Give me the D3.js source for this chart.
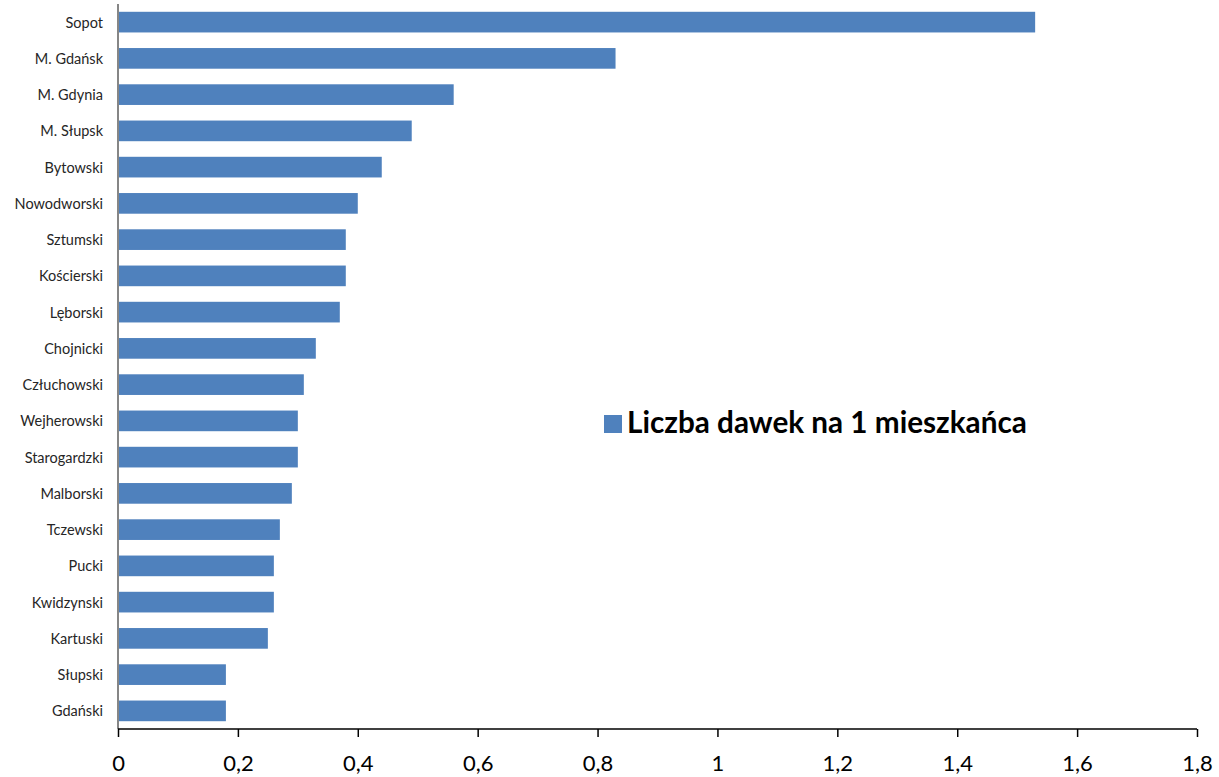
<!DOCTYPE html>
<html>
<head>
<meta charset="utf-8">
<script src="https://cdn.jsdelivr.net/npm/d3@7"></script>
<style>
  html, body { margin: 0; padding: 0; background: #fff; }
  svg { display: block; }
</style>
</head>
<body>
<svg id="chart" width="1219" height="777"></svg>
<script>
const categories = ["Sopot","M. Gdańsk","M. Gdynia","M. Słupsk","Bytowski","Nowodworski","Sztumski","Kościerski","Lęborski","Chojnicki","Człuchowski","Wejherowski","Starogardzki","Malborski","Tczewski","Pucki","Kwidzynski","Kartuski","Słupski","Gdański"];
const values = [1.53,0.83,0.56,0.49,0.44,0.40,0.38,0.38,0.37,0.33,0.31,0.30,0.30,0.29,0.27,0.26,0.26,0.25,0.18,0.18];
const xTicks = [0,0.2,0.4,0.6,0.8,1,1.2,1.4,1.6,1.8];
const seriesName = "Liczba dawek na 1 mieszkańca";

const svg = d3.select("#chart");
const pLeft = 118, pRight = 1197, pTop = 4, pBottom = 729;

const x = d3.scaleLinear().domain([0, 1.8]).range([pLeft, pRight]);
const y = d3.scaleBand().domain(categories).range([pTop, pBottom]).paddingInner(0.43).paddingOuter(0.215);

// bars
svg.append("g").selectAll("rect").data(categories).join("rect")
  .attr("x", x(0) + 1)
  .attr("y", d => y(d))
  .attr("width", (d, i) => x(values[i]) - x(0) - 1)
  .attr("height", y.bandwidth())
  .attr("fill", "#4F81BD");

// vertical axis line (gray)
svg.append("line")
  .attr("x1", pLeft).attr("x2", pLeft).attr("y1", pTop).attr("y2", pBottom)
  .attr("stroke", "#868686").attr("stroke-width", 2);

// category labels
svg.append("g").selectAll("text").data(categories).join("text")
  .attr("x", 103)
  .attr("y", d => y(d) + y.bandwidth() / 2)
  .attr("text-anchor", "end")
  .attr("dominant-baseline", "central")
  .attr("font-family", "Lato, 'Open Sans', sans-serif")
  .attr("font-size", 14.5)
  .attr("fill", "#262626")
  .text(d => d);

// x axis
const xAxis = d3.axisBottom(x).tickValues(xTicks).tickSize(8).tickPadding(18)
  .tickFormat(d => String(d).replace(".", ","));
const gx = svg.append("g").attr("transform", `translate(0,${pBottom})`).call(xAxis);
gx.select(".domain").attr("stroke", "#000").attr("stroke-width", 1.5).attr("d", `M${pLeft},0H${pRight}`);
gx.selectAll(".tick line").attr("stroke", "#000").attr("stroke-width", 1.5);
gx.selectAll(".tick text")
  .attr("font-family", "Lato, 'Open Sans', sans-serif")
  .attr("font-size", 22)
  .attr("fill", "#000");

// legend
const lg = svg.append("g");
lg.append("rect").attr("x", 604).attr("y", 415).attr("width", 18).attr("height", 18).attr("fill", "#4F81BD");
const lt = lg.append("text")
  .attr("x", 627).attr("y", 432.5)
  .attr("font-family", "Lato, 'Open Sans', sans-serif")
  .attr("font-weight", "bold")
  .attr("font-size", 26)
  .attr("fill", "#000")
  .text(seriesName);
const w = lt.node().getComputedTextLength();
lt.attr("font-size", 26 * 400 / w);
</script>
</body>
</html>
